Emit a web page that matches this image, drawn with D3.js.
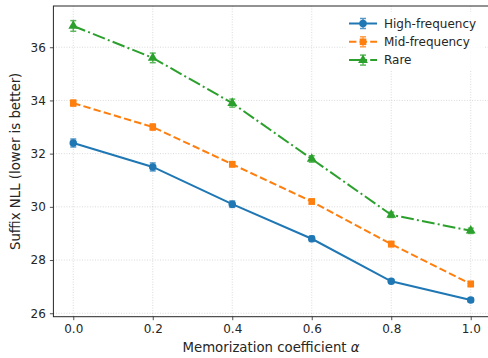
<!DOCTYPE html>
<html><head><meta charset="utf-8">
<script src="https://cdn.jsdelivr.net/npm/d3@7"></script>
<style>body{margin:0;background:#fff}svg{font-family:"DejaVu Sans",sans-serif}</style>
</head><body><svg id="c" width="488" height="358"></svg>
<script>
const alphas = [0.0, 0.2, 0.4, 0.6, 0.8, 1.0];
const seriesNames = ["High-frequency", "Mid-frequency", "Rare"];
const highVals = [32.4, 31.5, 30.1, 28.8, 27.2, 26.5];
const highErr = [0.15, 0.15, 0.12, 0.1, 0.08, 0.08];
const midVals = [33.9, 33.0, 31.6, 30.2, 28.6, 27.1];
const midErr = [0.12, 0.12, 0.1, 0.1, 0.1, 0.1];
const rareVals = [36.8, 35.6, 33.9, 31.8, 29.7, 29.1];
const rareErr = [0.2, 0.18, 0.15, 0.12, 0.1, 0.1];
const xTicks = [0.0, 0.2, 0.4, 0.6, 0.8, 1.0];
const yTicks = [26, 28, 30, 32, 34, 36];
const colors = ["#1f77b4", "#ff7f0e", "#2ca02c"];
const dashes = [null, "7.4,3.2", "12.8,3.2,2,3.2"];
const markers = [d3.symbolCircle, d3.symbolSquare, d3.symbolTriangle];

const series = [
  {name: seriesNames[0], vals: highVals, err: highErr},
  {name: seriesNames[1], vals: midVals, err: midErr},
  {name: seriesNames[2], vals: rareVals, err: rareErr}
];

const svg = d3.select("#c");
const L = 53.4, R = 490.6, T = 6, B = 316.7;
const x = d3.scaleLinear().domain([-0.05, 1.05]).range([L, R]);
const y = d3.scaleLinear().domain([25.87, 37.55]).range([B, T]);

// grid
const g = svg.append("g");
g.selectAll(".gx").data(xTicks).enter().append("line")
  .attr("x1", d => x(d)).attr("x2", d => x(d)).attr("y1", T).attr("y2", B)
  .attr("stroke", "#b0b0b0").attr("stroke-opacity", 0.6).attr("stroke-width", 0.8).attr("stroke-dasharray", "1,1.6");
g.selectAll(".gy").data(yTicks).enter().append("line")
  .attr("y1", d => y(d)).attr("y2", d => y(d)).attr("x1", L).attr("x2", R)
  .attr("stroke", "#b0b0b0").attr("stroke-opacity", 0.6).attr("stroke-width", 0.8).attr("stroke-dasharray", "1,1.6");

// axes
const xAxis = svg.append("g").attr("transform", `translate(0,${B})`)
  .call(d3.axisBottom(x).tickValues(xTicks).tickFormat(d3.format(".1f")).tickSizeOuter(0).tickSize(3.5).tickPadding(4));
const yAxis = svg.append("g").attr("transform", `translate(${L},0)`)
  .call(d3.axisLeft(y).tickValues(yTicks).tickFormat(d3.format("d")).tickSizeOuter(0).tickSize(3.5).tickPadding(4));
[xAxis, yAxis].forEach(a => {
  a.select(".domain").remove();
  a.selectAll("text").attr("font-size", 12).attr("fill", "#262626").attr("font-family", "DejaVu Sans");
  a.selectAll("line").attr("stroke", "#262626").attr("stroke-width", 0.8);
});

// frame
svg.append("rect").attr("x", L).attr("y", T).attr("width", R - L).attr("height", B - T)
  .attr("fill", "none").attr("stroke", "#262626").attr("stroke-width", 1);

const line = d3.line().x((d, i) => x(alphas[i])).y(d => y(d));
series.forEach((s, k) => {
  const gs = svg.append("g");
  gs.append("path").datum(s.vals).attr("d", line).attr("fill", "none")
    .attr("stroke", colors[k]).attr("stroke-width", 2)
    .attr("stroke-dasharray", dashes[k]);
  s.vals.forEach((v, i) => {
    const cx = x(alphas[i]);
    const eb = gs.append("g").attr("stroke", colors[k]).attr("stroke-width", 1.5).attr("opacity", 0.75);
    eb.append("line").attr("x1", cx).attr("x2", cx).attr("y1", y(v - s.err[i])).attr("y2", y(v + s.err[i]));
    eb.append("line").attr("x1", cx - 3).attr("x2", cx + 3).attr("y1", y(v - s.err[i])).attr("y2", y(v - s.err[i]));
    eb.append("line").attr("x1", cx - 3).attr("x2", cx + 3).attr("y1", y(v + s.err[i])).attr("y2", y(v + s.err[i]));
    gs.append("path").attr("d", d3.symbol().type(markers[k]).size(k === 2 ? 42 : 44)())
      .attr("transform", `translate(${cx},${y(v)})`).attr("fill", colors[k]);
  });
});

// legend
const lg = svg.append("g").attr("transform", "translate(346,0)");
lg.append("rect").attr("x", 0).attr("y", 12).attr("width", 138).attr("height", 58)
  .attr("fill", "#fff").attr("fill-opacity", 0.8);
series.forEach((s, k) => {
  const yy = 23.5 + k * 18.3;
  lg.append("line").attr("x1", 3).attr("x2", 31).attr("y1", yy).attr("y2", yy)
    .attr("stroke", colors[k]).attr("stroke-width", 2).attr("stroke-dasharray", dashes[k]);
  const eb = lg.append("g").attr("stroke", colors[k]).attr("stroke-width", 1.5).attr("opacity", 0.75);
  eb.append("line").attr("x1", 17).attr("x2", 17).attr("y1", yy - 5).attr("y2", yy + 5);
  eb.append("line").attr("x1", 14).attr("x2", 20).attr("y1", yy - 5).attr("y2", yy - 5);
  eb.append("line").attr("x1", 14).attr("x2", 20).attr("y1", yy + 5).attr("y2", yy + 5);
  lg.append("path").attr("d", d3.symbol().type(markers[k]).size(k === 2 ? 42 : 44)())
    .attr("transform", `translate(17,${yy})`).attr("fill", colors[k]);
  lg.append("text").attr("x", 38).attr("y", yy + 4.3).attr("font-size", 12).attr("fill", "#262626").text(s.name);
});

// labels
svg.append("text").attr("x", (L + 490.6) / 2 - 1).attr("y", 352).attr("text-anchor", "middle")
  .attr("font-size", 13.3).attr("fill", "#262626")
  .html('Memorization coefficient <tspan font-style="italic">α</tspan>');
svg.append("text").attr("transform", `translate(20,${(T + B) / 2}) rotate(-90)`).attr("text-anchor", "middle")
  .attr("font-size", 13.3).attr("fill", "#262626").text("Suffix NLL (lower is better)");
</script></body></html>
